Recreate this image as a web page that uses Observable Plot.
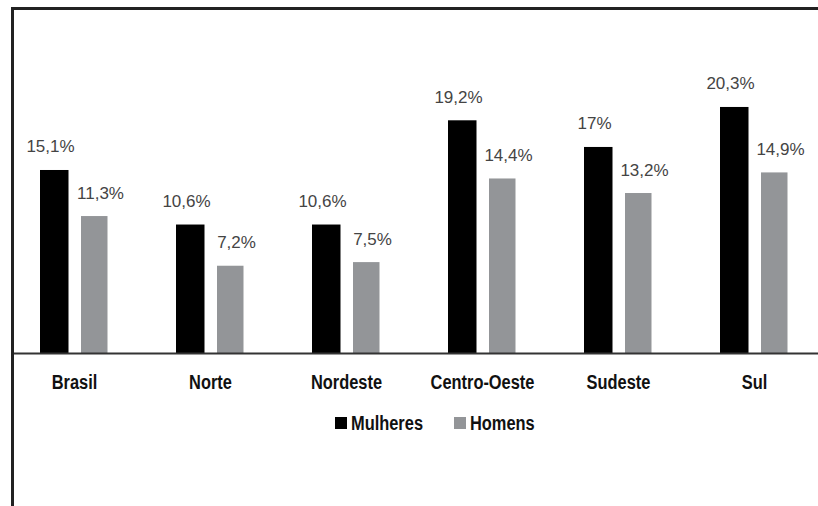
<!DOCTYPE html>
<html>
<head>
<meta charset="utf-8">
<script src="https://cdn.jsdelivr.net/npm/d3@7"></script>
<script src="https://cdn.jsdelivr.net/npm/@observablehq/plot@0.6"></script>
<style>
  html, body { margin: 0; padding: 0; background: #fff; }
  #wrap { position: relative; width: 818px; height: 506px; overflow: hidden; }
  #legend { position: absolute; left: 335px; top: 413px; display: flex; align-items: flex-start;
    font-family: "Liberation Sans", Arial, sans-serif; font-weight: bold;
    font-size: 20px; color: #111; line-height: 20px; }
  #legend .item { display: flex; align-items: flex-start; }
  #legend .sw { width: 12px; height: 12px; margin-top: 4px; margin-right: 4px; }
  #legend .txt { display: inline-block; transform: scaleX(0.82); transform-origin: 0 0; white-space: nowrap; }
</style>
</head>
<body>
<div id="wrap"></div>
<script>
const regions = ["Brasil", "Norte", "Nordeste", "Centro-Oeste", "Sudeste", "Sul"];
const mulheres = [15.1, 10.6, 10.6, 19.2, 17, 20.3];
const homens = [11.3, 7.2, 7.5, 14.4, 13.2, 14.9];
const seriesNames = ["Mulheres", "Homens"];
const seriesColors = ["#000000", "#939598"];

const fmt = v => String(v).replace(".", ",") + "%";
const dataM = regions.map((r, i) => ({region: r, value: mulheres[i]}));
const dataH = regions.map((r, i) => ({region: r, value: homens[i]}));

const labelFont = "'Liberation Sans', Arial, sans-serif";
const condense = 0.82;

const chart = Plot.plot({
  width: 818,
  height: 506,
  marginTop: 8,
  marginLeft: 12,
  marginRight: 0,
  marginBottom: 0,
  style: {background: "#fff"},
  x: {domain: regions, range: [4, 824], padding: 0, axis: null},
  y: {domain: [0, 20], range: [353, 110.6], axis: null},
  marks: [
    Plot.barY(dataM, {x: "region", y: "value", fill: seriesColors[0], insetLeft: 34, insetRight: 73.5}),
    Plot.barY(dataH, {x: "region", y: "value", fill: seriesColors[1], insetLeft: 75, insetRight: 34.5}),
    Plot.ruleY([0], {stroke: "#333", strokeWidth: 2}),
    Plot.text(dataM, {x: "region", y: "value", text: d => fmt(d.value), dx: -24, dy: -18,
      lineAnchor: "bottom", fontSize: 17, fill: "#444", fontFamily: labelFont}),
    Plot.text(dataH, {x: "region", y: "value", text: d => fmt(d.value), dx: 26, dy: -18,
      lineAnchor: "bottom", fontSize: 17, fill: "#444", fontFamily: labelFont}),
    Plot.text(regions, {x: d => d, y: regions.map(() => 0), text: d => d, dy: 35,
      lineAnchor: "bottom", fontSize: 20, fontWeight: "bold", fill: "#111", fontFamily: labelFont}),
    Plot.frame({anchor: "top", stroke: "#222", strokeWidth: 3}),
    Plot.frame({anchor: "left", stroke: "#222", strokeWidth: 3})
  ]
});

const wrap = document.getElementById("wrap");
wrap.appendChild(chart);

// condensed look for the bold category labels
d3.select(chart).selectAll("text")
  .filter(function() { return regions.includes(this.textContent); })
  .each(function() {
    const w = this.getComputedTextLength();
    this.setAttribute("textLength", (w * condense).toFixed(1));
    this.setAttribute("lengthAdjust", "spacingAndGlyphs");
  });

const legend = document.createElement("div");
legend.id = "legend";
wrap.appendChild(legend);
seriesNames.forEach((name, i) => {
  const item = document.createElement("div");
  item.className = "item";
  const sw = document.createElement("span");
  sw.className = "sw";
  sw.style.background = seriesColors[i];
  const t = document.createElement("span");
  t.className = "txt";
  t.textContent = name;
  item.appendChild(sw);
  item.appendChild(t);
  legend.appendChild(item);
  const w = t.getBoundingClientRect().width / condense;
  t.style.marginRight = (-(w * (1 - condense)) + (i === 0 ? 31 : 0)) + "px";
});
</script>
</body>
</html>
